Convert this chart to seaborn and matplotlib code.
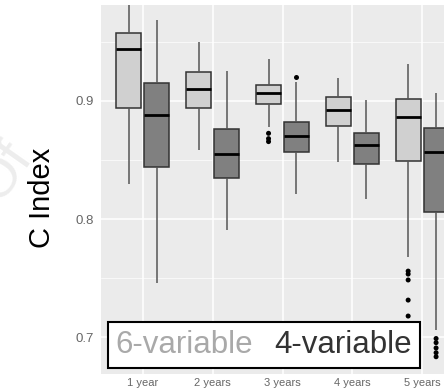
import matplotlib
matplotlib.use("Agg")
import matplotlib.pyplot as plt
from matplotlib.patches import Patch
from matplotlib.ticker import FixedLocator
import seaborn as sns
import pandas as pd

# categories and models
years = ["1 year", "2 years", "3 years", "4 years", "5 years"]
models = ["6-variable", "4-variable"]

# five-number summaries: (lower whisker, q1, median, q3, upper whisker)
six_var = [
    (0.830, 0.8936, 0.9434, 0.957, 0.985),
    (0.858, 0.8936, 0.9096, 0.9243, 0.950),
    (0.878, 0.897, 0.9063, 0.9135, 0.9355),
    (0.848, 0.8786, 0.892, 0.9029, 0.9194),
    (0.768, 0.8488, 0.8865, 0.9012, 0.9308),
]
four_var = [
    (0.746, 0.8437, 0.8877, 0.9147, 0.968),
    (0.791, 0.835, 0.855, 0.876, 0.9254),
    (0.821, 0.8567, 0.870, 0.8817, 0.9155),
    (0.8167, 0.8462, 0.8626, 0.8724, 0.9006),
    (0.706, 0.806, 0.857, 0.877, 0.907),
]

# outlying points
six_out = {"3 years": [0.8725, 0.868, 0.8655],
           "5 years": [0.756, 0.7535, 0.7485, 0.7315, 0.718]}
four_out = {"3 years": [0.920],
            "5 years": [0.699, 0.6955, 0.691, 0.687, 0.6836]}

box_colors = {"6-variable": "#D0D0D0", "4-variable": "#808080"}
text_colors = ["#A9A9A9", "#333333"]

# build long tables
rows = []
for name, summ in zip(models, [six_var, four_var]):
    for yr, vals in zip(years, summ):
        for v in vals:
            rows.append({"year": yr, "model": name, "cindex": v})
df = pd.DataFrame(rows)

orows = []
for name, outs in zip(models, [six_out, four_out]):
    for yr, vals in outs.items():
        for v in vals:
            orows.append({"year": yr, "model": name, "cindex": v})
out_df = pd.DataFrame(orows)

sns.set_style("darkgrid", {"axes.facecolor": "#EBEBEB", "grid.color": "white"})
plt.rcParams["font.family"] = ["Liberation Sans", "DejaVu Sans"]

fig = plt.figure(figsize=(4.44, 3.91), dpi=100)
ax = fig.add_axes([101 / 444, 17 / 391, 363 / 444, 369 / 391])

sns.boxplot(data=df, x="year", y="cindex", hue="model", order=years, hue_order=models,
            palette=box_colors, saturation=1, width=0.8, gap=0.1, whis=(0, 100),
            linecolor="#333333", linewidth=1.1, showfliers=False, showcaps=False,
            medianprops=dict(color="black", linewidth=2),
            whiskerprops=dict(color="#555555", linewidth=1.1),
            legend=False, ax=ax)

sns.stripplot(data=out_df, x="year", y="cindex", hue="model", order=years, hue_order=models,
              palette={"6-variable": "black", "4-variable": "black"}, dodge=True, jitter=False,
              size=3.6, legend=False, ax=ax)

ax.set_xlim(-0.6, 4.6)
ax.set_ylim(0.669, 0.981)
ax.set_yticks([0.7, 0.8, 0.9])
ax.set_yticklabels(["0.7", "0.8", "0.9"])
ax.yaxis.set_minor_locator(FixedLocator([0.75, 0.85, 0.95]))
ax.grid(which="major", color="white", linewidth=1.1)
ax.yaxis.grid(True, which="minor", color="white", linewidth=0.5)
ax.xaxis.grid(True, which="major", color="white", linewidth=1.1)
ax.set_axisbelow(True)
for s in ax.spines.values():
    s.set_visible(False)

ax.tick_params(axis="both", which="major", length=3, width=0.8, color="#555555",
               labelcolor="#666666", pad=2)
ax.tick_params(axis="y", labelsize=9.5)
ax.tick_params(axis="x", labelsize=8, length=2.5, pad=0.5)
ax.tick_params(which="minor", length=0)
ax.set_xlabel("")
ax.set_ylabel("C Index", fontsize=21, color="black")
ax.yaxis.set_label_coords(-0.125, 0.477)

# faint watermark on the left
fig.text(0.01, 0.56, "Of", fontsize=40, color="#EDEDED", rotation=55,
         ha="center", va="center", zorder=0)

handles = [Patch(facecolor="none", edgecolor="none") for _ in models]
leg = ax.legend(handles, models, ncol=2, loc="lower left", bbox_to_anchor=(0.019, 0.016),
                borderaxespad=0, frameon=True, fancybox=False, framealpha=1,
                edgecolor="black", facecolor="white", handlelength=0, handletextpad=0,
                columnspacing=0.67, borderpad=0.25, fontsize=22.5, labelcolor=text_colors)
leg.get_frame().set_linewidth(1.5)

fig.savefig("out.png", dpi=100)
